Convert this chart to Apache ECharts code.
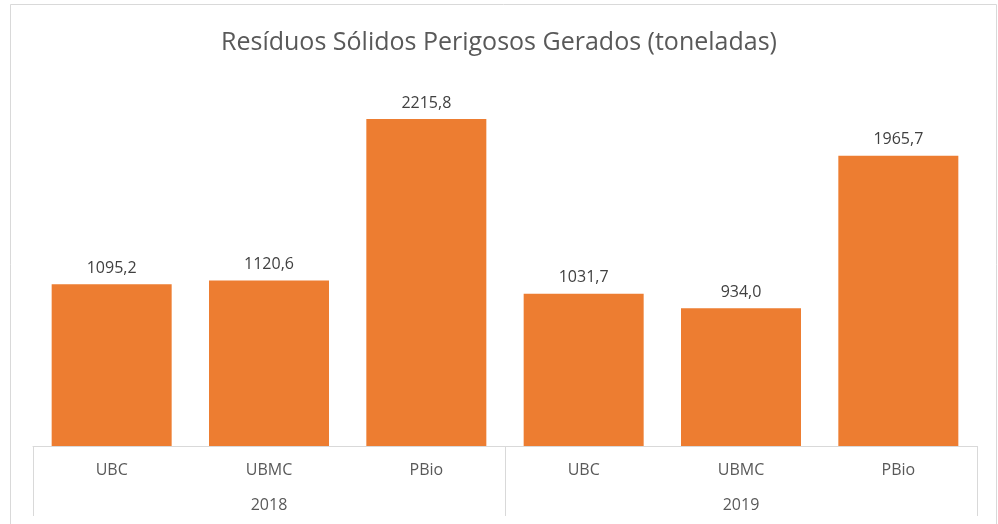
<!DOCTYPE html>
<html>
<head>
<meta charset="utf-8">
<script src="https://cdn.jsdelivr.net/npm/echarts@6/dist/echarts.min.js"></script>
<style>html,body{margin:0;padding:0;background:#fff;}#c{width:998px;height:524px;}</style>
</head>
<body>
<div id="c"></div>
<script>
const title = 'Resíduos Sólidos Perigosos Gerados (toneladas)';
const units = ['UBC', 'UBMC', 'PBio', 'UBC', 'UBMC', 'PBio'];
const years = ['2018', '2019'];
const values = [1095.2, 1120.6, 2215.8, 1031.7, 934.0, 1965.7];

const chart = echarts.init(document.getElementById('c'), null, {renderer: 'canvas'});
const fmt = v => v.toFixed(1).replace('.', ',');
const font = '"Open Sans", "Noto Sans", sans-serif';
chart.setOption({
  animation: false,
  backgroundColor: '#fff',
  title: {
    text: title, left: 'center', top: 25,
    textStyle: {fontFamily: font, fontSize: 25, fontWeight: 'normal', color: '#595959'}
  },
  graphic: [{
    type: 'rect', shape: {x: 10.5, y: 4.5, width: 986, height: 530},
    style: {fill: 'none', stroke: '#d9d9d9', lineWidth: 1}, silent: true
  }],
  grid: {left: 33, right: 21, top: 77, bottom: 78},
  xAxis: [{
    type: 'category', data: units, position: 'bottom',
    axisLine: {show: true, lineStyle: {color: '#d9d9d9', width: 1}},
    axisTick: {show: false},
    axisLabel: {color: '#595959', fontSize: 16, fontFamily: font, margin: 16}
  }, {
    type: 'category', data: years, position: 'bottom', offset: 70,
    axisLine: {show: false},
    axisTick: {show: true, inside: true, length: 70, lineStyle: {color: '#d9d9d9', width: 1}},
    axisLabel: {inside: true, color: '#595959', fontSize: 16, fontFamily: font, margin: 3}
  }],
  yAxis: {
    type: 'value', min: 0, max: 2500, show: false, splitLine: {show: false}
  },
  series: [{
    type: 'bar', data: values, xAxisIndex: 0, barWidth: 120,
    itemStyle: {color: '#ED7D31'},
    label: {
      show: true, position: 'top', distance: 8, color: '#404040', fontSize: 16, fontFamily: font,
      formatter: p => fmt(p.value)
    }
  }]
});
</script>
</body>
</html>
